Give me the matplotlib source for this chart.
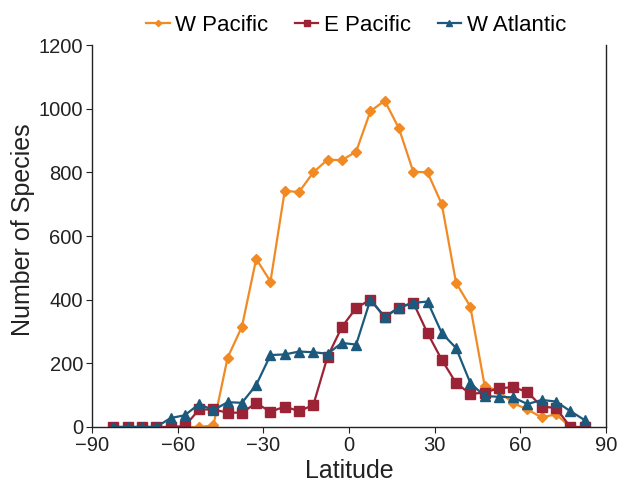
import numpy as np
import matplotlib.pyplot as plt

plt.rcParams['font.family'] = ['Liberation Sans', 'DejaVu Sans']

# latitud (centro de cada banda de 5 grados)
latitud = np.arange(-82.5, 85, 5)

w_pacific = [0, 0, 0, 0, 0, 0, 0, 5, 218, 315, 528, 457, 742, 738, 800, 840, 838,
             865, 992, 1025, 938, 802, 800, 700, 453, 378, 130, 112, 75, 55, 30, 40, 0, 0]
e_pacific = [0, 0, 0, 0, 0, 3, 55, 55, 45, 45, 75, 48, 64, 50, 69, 221, 314,
             374, 400, 346, 375, 391, 295, 211, 138, 104, 108, 122, 125, 110, 64, 60, 0, 0]
w_atlantic = [0, 0, 0, 0, 28, 37, 72, 53, 78, 76, 132, 226, 228, 237, 235, 230, 264,
              259, 400, 345, 375, 390, 394, 295, 248, 138, 97, 95, 93, 72, 85, 80, 50, 22]

xticks = [-90, -60, -30, 0, 30, 60, 90]
yticks = [0, 200, 400, 600, 800, 1000, 1200]

fig = plt.figure(figsize=(6.26, 4.86), dpi=100)
ax = fig.add_axes([0.147, 0.1214, 0.821, 0.786])

ax.plot(latitud, w_pacific, color='#F28A24', marker='D', markersize=5.2, lw=1.6, label='W Pacific')
ax.plot(latitud, e_pacific, color='#9B2335', marker='s', markersize=6.5, lw=1.6, label='E Pacific')
ax.plot(latitud, w_atlantic, color='#1B5A7C', marker='^', markersize=7, lw=1.6, label='W Atlantic')

ax.set_xlim(-90, 90)
ax.set_ylim(0, 1200)
ax.set_xticks(xticks)
ax.set_yticks(yticks)
ax.tick_params(labelsize=14.5, colors='#222222', length=4, direction='out', pad=2.5)
ax.spines['top'].set_visible(False)
for s in ['left', 'bottom', 'right']:
    ax.spines[s].set_linewidth(1.0)
    ax.spines[s].set_color('#222222')

ax.set_xlabel('Latitude', fontsize=18, color='#222222', labelpad=3)
ax.set_ylabel('Number of Species', fontsize=18, color='#222222')
ax.yaxis.set_label_coords(-0.11, 0.516)

ax.legend(loc='lower center', bbox_to_anchor=(0.514, 0.995), ncol=3, frameon=False,
          fontsize=16, handlelength=1.05, handletextpad=0.25, columnspacing=1.2,
          borderaxespad=0.1, markerscale=0.6)

fig.savefig('out.png', dpi=100)
